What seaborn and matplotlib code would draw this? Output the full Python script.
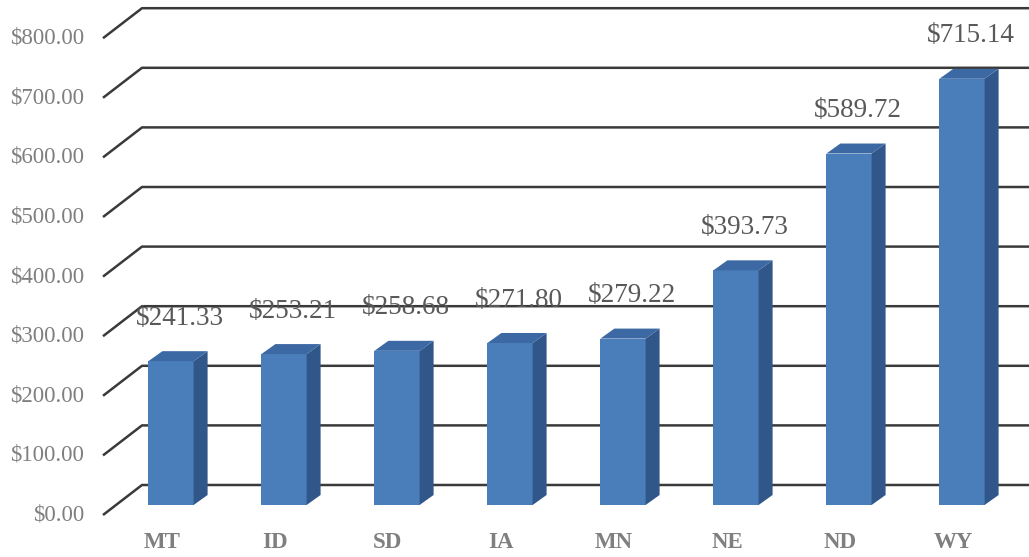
import numpy as np
import pandas as pd
import matplotlib
matplotlib.use("Agg")
import matplotlib.pyplot as plt
from matplotlib.patches import Polygon
import seaborn as sns

# Data
states = ["MT", "ID", "SD", "IA", "MN", "NE", "ND", "WY"]
values = [241.33, 253.21, 258.68, 271.80, 279.22, 393.73, 589.72, 715.14]
tick_values = [0, 100, 200, 300, 400, 500, 600, 700, 800]
tick_labels = ["$%.2f" % v for v in tick_values]

df = pd.DataFrame({"state": states, "value": values})

sns.set_theme(style="white")
plt.rcParams["font.family"] = ["Liberation Serif", "DejaVu Serif"]

W, H = 1029, 557
fig = plt.figure(figsize=(W / 100, H / 100), dpi=100)
ax = fig.add_axes([0, 0, 1, 1])

# pixel geometry helpers
px_per_unit = 0.596      # vertical pixels per dollar
x0_px, step_px = 171, 113  # first bar centre and spacing (pixels)
base_px = 505            # pixel row of the bar floor (from top)

ylo = -(H - base_px) / px_per_unit
yhi = base_px / px_per_unit
xlo = -x0_px / step_px
xhi = (W - x0_px) / step_px


def dx(p):
    return p / step_px


def dy(p):
    return p / px_per_unit


# back wall / gridlines with perspective floor diagonal
front_x, back_x = dx(103 - x0_px), dx(142 - x0_px)
for v, lab in zip(tick_values, tick_labels):
    yf = v - dy(10)
    yb = v + dy(20)
    ax.plot([front_x, back_x, xhi], [yf, yb, yb], color="#3a3a3a",
            lw=1.8, solid_capstyle="butt", zorder=1)
    ax.text(dx(84 - x0_px), yf, lab, ha="right", va="center",
            fontsize=16.5, color="#7f7f7f", zorder=5)

# front faces of the bars
bar_w = 0.40
sns.barplot(data=df, x="state", y="value", ax=ax, width=bar_w,
            color="#4a7ebb", saturation=1, edgecolor="none", zorder=3)

# depth faces (side and top), value labels and category labels
ddx, ddy = dx(14), dy(10)
for i, v in enumerate(values):
    l, r = i - bar_w / 2, i + bar_w / 2
    side = Polygon([(r, 0), (r + ddx, ddy), (r + ddx, v + ddy), (r, v)],
                   closed=True, facecolor="#30568a", edgecolor="none", zorder=3)
    top = Polygon([(l, v), (r, v), (r + ddx, v + ddy), (l + ddx, v + ddy)],
                  closed=True, facecolor="#3c68a3", edgecolor="none", zorder=3)
    ax.add_patch(side)
    ax.add_patch(top)
    ax.text(i + dx(9), v + dy(43), "$%.2f" % v, ha="center", va="center",
            fontsize=19.5, color="#595959", zorder=5)
    ax.text(i - dx(9), dy(base_px - 543), states[i], ha="center",
            va="center", fontsize=16.5, fontweight="bold", color="#7f7f7f",
            zorder=5)

ax.set_xlim(xlo, xhi)
ax.set_ylim(ylo, yhi)
ax.set_xlabel("")
ax.set_ylabel("")
ax.set_xticks([])
ax.set_yticks([])
for s in ax.spines.values():
    s.set_visible(False)

fig.savefig("out.png", dpi=100)
